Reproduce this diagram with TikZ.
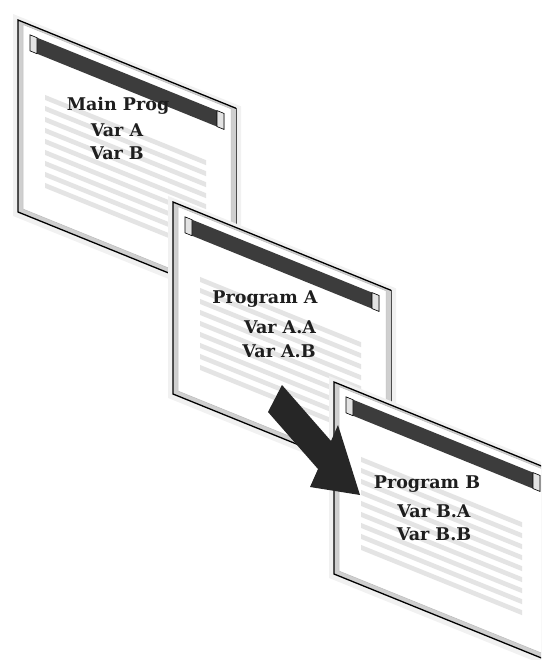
\documentclass[tikz,border=0pt]{standalone}
\usepackage{fontspec}
\setmainfont{DejaVu Serif}
\definecolor{framegray}{HTML}{CFCFCF}
\definecolor{bardark}{HTML}{3C3C3C}
\definecolor{stripegray}{HTML}{E4E4E4}
\definecolor{inkdark}{HTML}{1E1E1E}
\definecolor{shadowgray}{HTML}{F1F1F1}
\definecolor{arrowdark}{HTML}{262626}
\tikzset{
  winlabel/.style={font=\bfseries\fontsize{17.5}{20}\selectfont, text=inkdark, inner sep=0pt, anchor=base},
  frameline/.style={draw=black, line width=1.3pt, line join=miter},
  winbutton/.style={fill=gray!22, draw=black, line width=0.6pt},
}
\newcommand\drawwindow{%
  \fill[shadowgray] (-5,-4) rectangle (223,198);
  \fill[framegray] (0,0) rectangle (218,192);
  \filldraw[fill=white, draw=gray!55, line width=0.5pt] (5,2.5) rectangle (213,187);
  \foreach \k in {0,...,8} {\fill[stripegray] (27,{64+11*\k}) rectangle (188,{69+11*\k});}
  \fill[bardark] (12,10) rectangle (206,26);
  \filldraw[winbutton] (12,10) rectangle (19,26);
  \filldraw[winbutton] (199,10) rectangle (206,26);
  \draw[frameline] (218,0) -- (0,0) -- (0,192) -- (218,192);
  \draw[draw=gray!60!black, line width=0.9pt] (218,0) -- (218,192);
}
\begin{document}
\begin{tikzpicture}[x=1pt, y=-1pt]
\useasboundingbox (0,0) rectangle (541,660);
\clip (0,0) rectangle (541,660);
\coordinate (w1) at (18,20);
\coordinate (w2) at (173,202);
\coordinate (w3) at (334,382);
% window 1
\begin{scope}[shift={(w1)}]
  \begin{scope}[yslant=-0.405]\drawwindow\end{scope}
\end{scope}
\node[winlabel] (m1) at (118,111) {Main Prog};
\node[winlabel] (m2) at (117,137) {Var A};
\node[winlabel] (m3) at (117,160) {Var B};
% window 2
\begin{scope}[shift={(w2)}]
  \begin{scope}[yslant=-0.405]\drawwindow\end{scope}
\end{scope}
\node[winlabel] (a1) at (265,303) {Program A};
\node[winlabel] (a2) at (280,333) {Var A.A};
\node[winlabel] (a3) at (279,357) {Var A.B};
% window 3
\begin{scope}[shift={(w3)}]
  \begin{scope}[yslant=-0.405]\drawwindow\end{scope}
\end{scope}
\node[winlabel] (b1) at (427,488) {Program B};
\node[winlabel] (b2) at (434,517) {Var B.A};
\node[winlabel] (b3) at (434,540) {Var B.B};
% arrow
\fill[arrowdark] (282,385) -- (331,441) -- (338,425) -- (360,495) -- (310,487) -- (318,469) -- (268,412) -- cycle;
\end{tikzpicture}
\end{document}
